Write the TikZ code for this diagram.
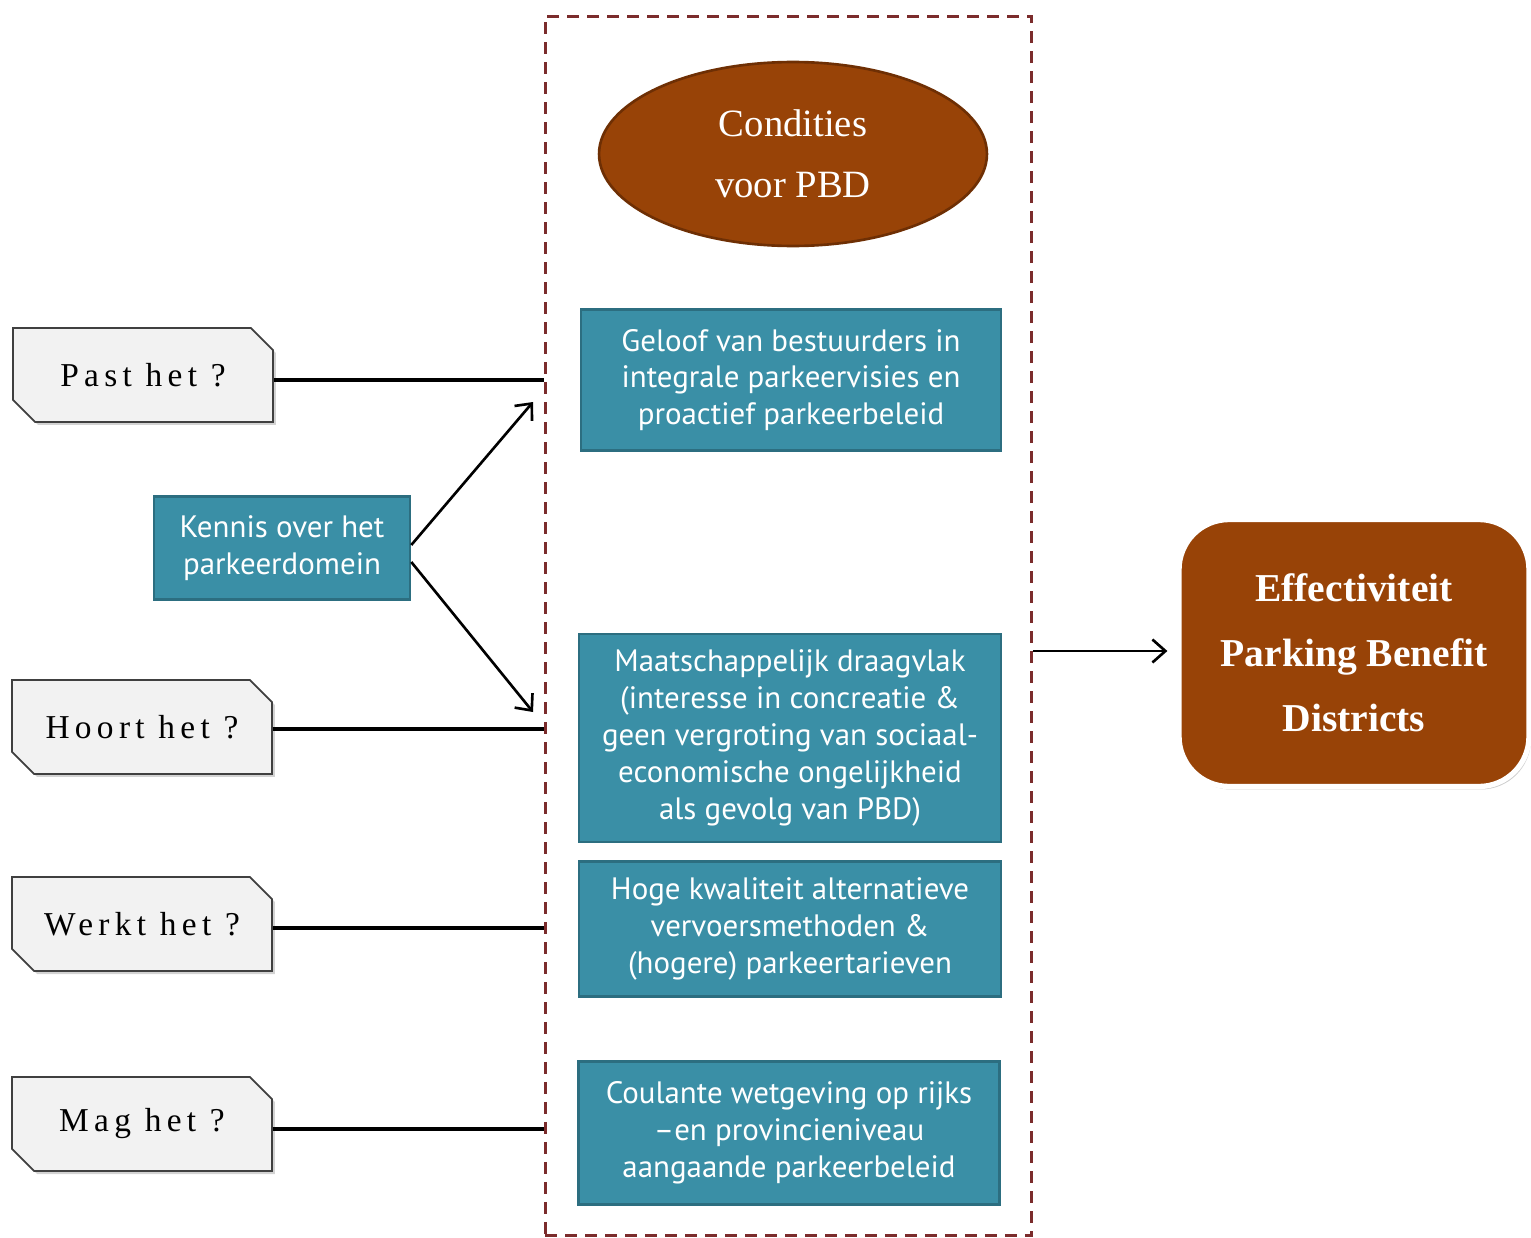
\documentclass[tikz,border=0pt]{standalone}
\usepackage{fontspec}
\setmainfont{Liberation Serif}
\newfontfamily\boxfont{PT Sans}
\usetikzlibrary{shapes.geometric,shapes.misc,shadows,arrows.meta}
\definecolor{pbdbrown}{HTML}{984307}
\definecolor{pbdbrowndark}{HTML}{6E2F04}
\definecolor{pbdteal}{HTML}{3A8FA6}
\definecolor{pbdtealdark}{HTML}{2C6E80}
\definecolor{pbdframe}{HTML}{7B2C2C}
\definecolor{pbdtag}{HTML}{F2F2F2}
\begin{document}
\begin{tikzpicture}[x=0.02cm, y=-0.02cm,
    cond/.style={draw=pbdtealdark, line width=1.5pt, fill=pbdteal, text=white,
        align=center, inner sep=0pt, font=\boxfont\fontsize{17.6}{21}\selectfont},
    question/.style={chamfered rectangle, chamfered rectangle corners={north east,south west},
        chamfered rectangle xsep=0.22cm, chamfered rectangle ysep=0.22cm,
        draw=black!75, line width=1pt, fill=pbdtag, inner sep=0pt,
        minimum width=5.2cm, minimum height=1.88cm,
        drop shadow={shadow xshift=0.6mm, shadow yshift=-0.6mm, opacity=0.35},
        font=\addfontfeature{LetterSpace=16}\fontsize{19}{22}\selectfont},
    link/.style={line width=2pt},
    arrow/.style={line width=1.5pt, -{Straight Barb[length=2.6mm, width=4.6mm]}}]
    \useasboundingbox (0,0) rectangle (1531,1237);

    % Dashed frame with the conditions
    \node[draw=pbdframe, line width=1.7pt, dash pattern=on 0.24cm off 0.16cm,
        minimum width=9.74cm, minimum height=24.4cm, inner sep=0pt] (frame) at (788.5,626) {};

    \node[ellipse, draw=pbdbrowndark, line width=1.5pt, fill=pbdbrown, text=white,
        minimum width=7.76cm, minimum height=3.68cm, align=center,
        font=\fontsize{22}{35}\selectfont] (cond) at (793,154) {Condities\\voor PBD};

    \node[cond, minimum width=8.4cm, minimum height=2.82cm] (geloof) at (791,380)
        {Geloof van bestuurders in\\integrale parkeervisies en\\proactief parkeerbeleid};
    \node[cond, minimum width=8.44cm, minimum height=4.16cm] (draagvlak) at (790,738)
        {Maatschappelijk draagvlak\\(interesse in concreatie \&\\geen vergroting van sociaal-\\economische ongelijkheid\\als gevolg van PBD)};
    \node[cond, minimum width=8.44cm, minimum height=2.7cm] (kwaliteit) at (790,929)
        {Hoge kwaliteit alternatieve\\vervoersmethoden \&\\(hogere) parkeertarieven};
    \node[cond, minimum width=8.42cm, minimum height=2.86cm] (wetgeving) at (789,1133)
        {Coulante wetgeving op rijks\\–en provincieniveau\\aangaande parkeerbeleid};

    % Questions on the left
    \node[question] (past) at (143,375) {Past het ?};
    \node[question] (hoort) at (142,727) {Hoort het ?};
    \node[question] (werkt) at (142,924) {Werkt het ?};
    \node[question] (mag) at (142,1124) {Mag het ?};

    \node[cond, minimum width=5.12cm, minimum height=2.06cm] (kennis) at (282,548)
        {Kennis over het\\parkeerdomein};

    % Result
    \node[rounded corners=1cm, draw=white, line width=3pt, fill=pbdbrown, text=white,
        minimum width=7.0cm, minimum height=5.34cm, align=center,
        drop shadow={shadow xshift=0.4mm, shadow yshift=-0.6mm, opacity=0.4},
        font=\bfseries\fontsize{22.5}{37}\selectfont] (effect) at (1354,653)
        {Effectiviteit\\Parking Benefit\\Districts};

    % Lines and arrows
    \draw[link] (past.east |- 0,380) -- (frame.west |- 0,380);
    \draw[link] (hoort.east |- 0,729) -- (frame.west |- 0,729);
    \draw[link] (werkt.east |- 0,928) -- (frame.west |- 0,928);
    \draw[link] (mag.east |- 0,1129) -- (frame.west |- 0,1129);

    \coordinate (up) at (533,402);
    \coordinate (down) at (533,712);
    \draw[arrow] ([yshift=0.06cm]kennis.east) -- (up);
    \draw[arrow] ([yshift=-0.28cm]kennis.east) -- (down);
    \draw[arrow, shorten >=0.18cm] (frame.east |- 0,651) -- (effect.west |- 0,651);
\end{tikzpicture}
\end{document}
